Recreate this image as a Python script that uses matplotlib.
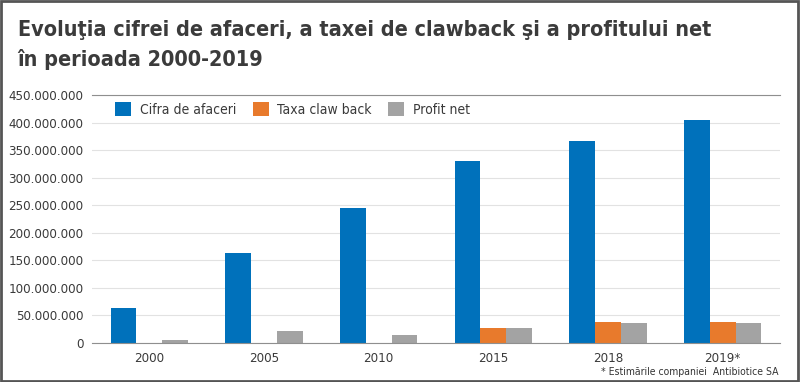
import matplotlib.pyplot as plt
import matplotlib.patches as mpatches
from matplotlib.ticker import FuncFormatter
import numpy as np

years = ['2000', '2005', '2010', '2015', '2018', '2019*']
cifra = [63e6, 163e6, 244e6, 331e6, 366e6, 404e6]
taxa = [0, 0, 0, 27e6, 37e6, 37e6]
profit = [5.5e6, 20.5e6, 14e6, 27e6, 35e6, 35e6]
series = ['Cifra de afaceri', 'Taxa claw back', 'Profit net']
colors = ['#0071bb', '#e87a2c', '#a3a3a3']

plt.rcParams['font.family'] = ['DejaVu Sans']
plt.rcParams['font.stretch'] = 'condensed'

fig = plt.figure(figsize=(8, 3.82), dpi=100)
ax = fig.add_axes([0.115, 0.103, 0.86, 0.648])

x = np.arange(len(years))
w = 0.224
for i, (vals, col) in enumerate(zip([cifra, taxa, profit], colors)):
    ax.bar(x + (i - 1) * w, vals, w, color=col, label=series[i], zorder=2)

ax.set_xlim(-0.5, len(years) - 0.5)
ax.set_ylim(0, 450e6)
ax.set_yticks(np.arange(0, 450e6 + 1, 50e6))
ax.yaxis.set_major_formatter(FuncFormatter(lambda v, p: f"{int(v):,}".replace(",", ".")))
ax.set_xticks(x)
ax.set_xticklabels(years)
ax.tick_params(length=0, labelsize=9.5, labelcolor='#3a3a3a')
ax.tick_params(axis='y', pad=6)
ax.tick_params(axis='x', pad=7)
ax.grid(axis='y', color='#e2e2e2', linewidth=0.8, zorder=0)
for s in ['left', 'right']:
    ax.spines[s].set_visible(False)
ax.spines['top'].set_color('#8f8f8f')
ax.spines['bottom'].set_color('#8f8f8f')

ax.legend(loc='upper left', bbox_to_anchor=(0.02, 1.01), ncol=3, frameon=False,
          fontsize=10, handlelength=1.15, handleheight=1.15, columnspacing=1.2,
          handletextpad=0.6, labelcolor='#3a3a3a', borderaxespad=0.3)

fig.text(0.022, 0.921, 'Evoluţia cifrei de afaceri, a taxei de clawback şi a profitului net',
         fontsize=15.5, fontweight='bold', color='#3b3b3b', va='center')
fig.text(0.022, 0.843, 'în perioada 2000-2019',
         fontsize=15.5, fontweight='bold', color='#3b3b3b', va='center')
fig.text(0.973, 0.027, '* Estimările companiei  Antibiotice SA', fontsize=7.5,
         color='#333333', ha='right', va='center')

fig.patches.append(mpatches.Rectangle((0.001, 0.002), 0.997, 0.995, transform=fig.transFigure,
                                      fill=False, edgecolor='#555555', linewidth=2))

fig.savefig('out.png', dpi=100)
